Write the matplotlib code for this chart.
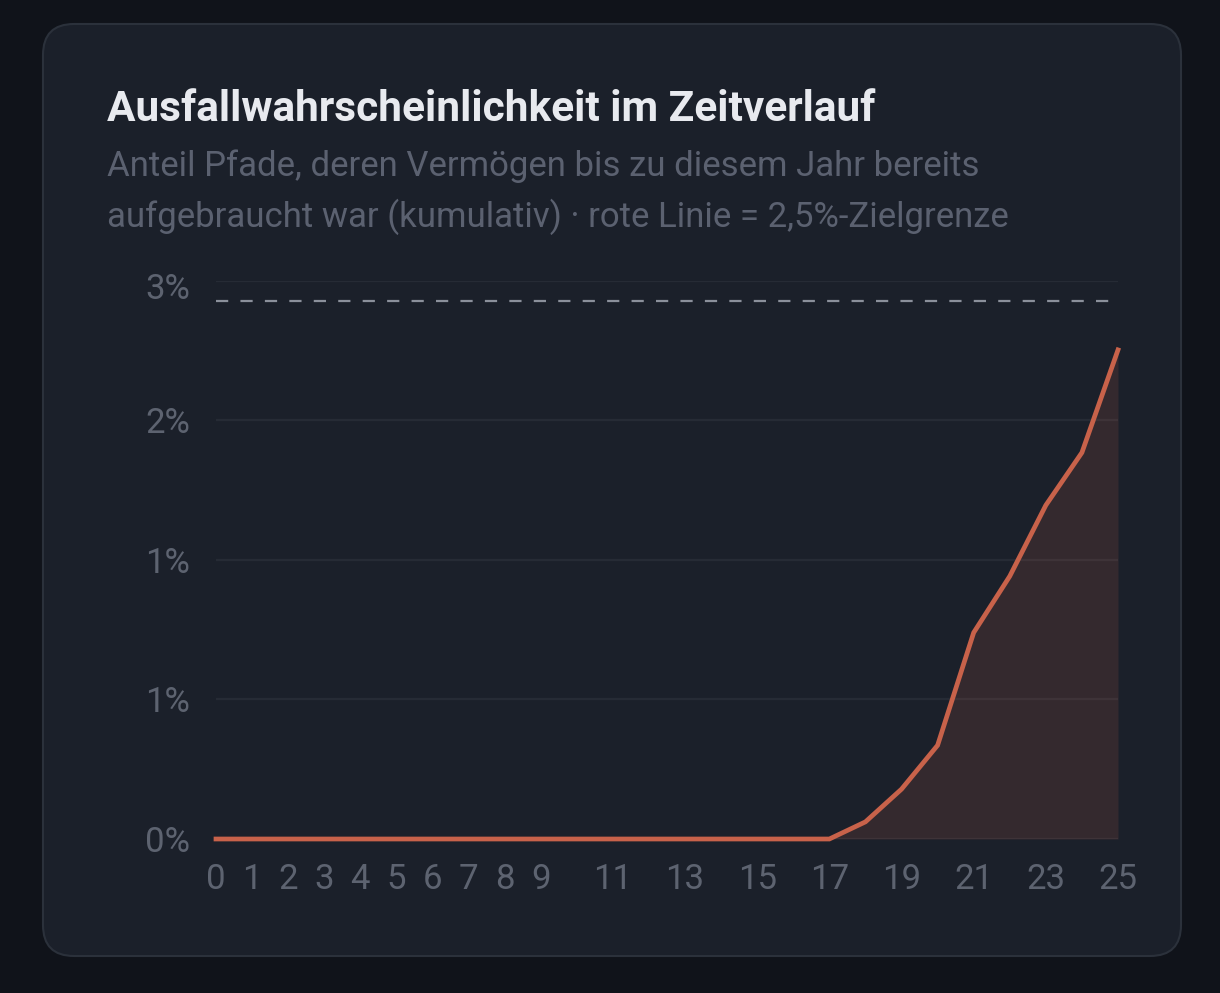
import matplotlib
matplotlib.use("Agg")
import matplotlib.pyplot as plt
import matplotlib.transforms as mtransforms
from matplotlib.patches import FancyBboxPatch

plt.rcParams['font.family'] = ['Roboto', 'DejaVu Sans']

# data: cumulative share of depleted paths per year (in %)
years = list(range(0, 26))
failure_pct = [0.0] * 18 + [0.086, 0.25, 0.47, 1.035, 1.318, 1.674, 1.938, 2.453]
target_pct = 2.7
y_ticks = [0.0, 0.7, 1.4, 2.1, 2.8]
x_ticks = [0, 1, 2, 3, 4, 5, 6, 7, 8, 9, 11, 13, 15, 17, 19, 21, 23, 25]

bg = '#10131a'
card = '#1b202a'
line_col = '#c8624a'
grid_col = '#262b35'
tick_col = '#5d6370'

W, H = 1220, 993
fig = plt.figure(figsize=(W / 100, H / 100), dpi=100, facecolor=bg)

# rounded card behind everything
box = FancyBboxPatch((0.43, (H - 956) / 100), 11.38, (956 - 24) / 100,
                     boxstyle="round,pad=0,rounding_size=0.31",
                     transform=fig.dpi_scale_trans, facecolor=card,
                     edgecolor='#2b313b', linewidth=1.5, zorder=-5)
fig.patches.append(box)

fig.text(107 / W, (H - 121) / H, 'Ausfallwahrscheinlichkeit im Zeitverlauf',
         color='#e8eaef', fontsize=30.5, fontweight='bold', va='baseline')
fig.text(107 / W, (H - 176) / H,
         'Anteil Pfade, deren Vermögen bis zu diesem Jahr bereits',
         color='#5b6170', fontsize=25, va='baseline')
fig.text(107 / W, (H - 227) / H,
         'aufgebraucht war (kumulativ) · rote Linie = 2,5%-Zielgrenze',
         color='#5b6170', fontsize=25, va='baseline')

ax = fig.add_axes([216 / W, (H - 839) / H, (1118 - 216) / W, (839 - 280.7) / H])
ax.set_facecolor('none')
for s in ax.spines.values():
    s.set_visible(False)

for t in y_ticks:
    ax.axhline(t, color=grid_col, linewidth=1.6, zorder=1)

ax.axhline(target_pct, color='#8b909b', linewidth=1.6,
           linestyle=(0, (5.5, 5.5)), zorder=2)

ax.fill_between(years, failure_pct, 0, color=line_col, alpha=0.15,
                linewidth=0, zorder=2)
ax.plot(years, failure_pct, color=line_col, linewidth=3.4, zorder=3,
        solid_joinstyle='miter', clip_on=False)

ax.set_xlim(0, 25)
ax.set_ylim(0, 2.8)
ax.set_yticks(y_ticks)
ax.set_yticklabels([f'{v:.0f}%' for v in y_ticks])
ax.set_xticks(x_ticks)
ax.set_xticklabels([str(v) for v in x_ticks])
ax.tick_params(axis='both', length=0, colors=tick_col, labelsize=25)
ax.tick_params(axis='y', pad=18.7)
ax.tick_params(axis='x', pad=17.5)

# top label sits a little lower in the original
top_lbl = ax.get_yticklabels()[-1]
top_lbl.set_transform(top_lbl.get_transform() +
                      mtransforms.ScaledTranslation(0, -5 / 100, fig.dpi_scale_trans))

fig.savefig('out.png', dpi=100, facecolor=bg)
